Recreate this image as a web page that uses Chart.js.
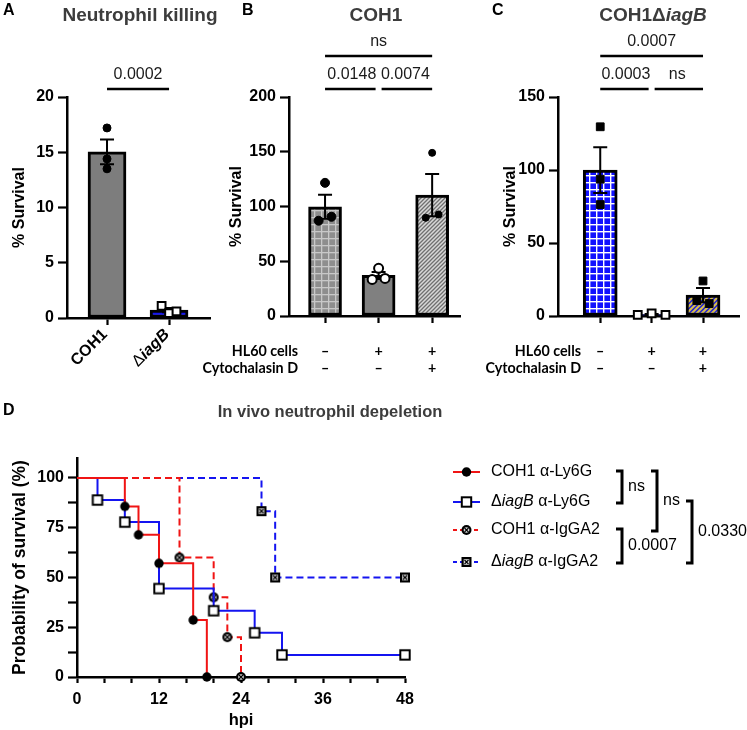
<!DOCTYPE html>
<html>
<head>
<meta charset="utf-8">
<script src="https://cdn.jsdelivr.net/npm/chart.js@4.4.1/dist/chart.umd.min.js"></script>
<style>
  html, body { margin: 0; padding: 0; background: #fff; }
  #wrap { position: relative; width: 747px; height: 730px; overflow: hidden; }
  canvas { position: absolute; }
</style>
</head>
<body>
<div id="wrap">
  <canvas id="pa" width="240" height="390" style="left:0;top:0"></canvas>
  <canvas id="pb" width="295" height="390" style="left:195px;top:0"></canvas>
  <canvas id="pc" width="277" height="390" style="left:470px;top:0"></canvas>
  <canvas id="pd" width="747" height="340" style="left:0;top:390px"></canvas>
</div>
<script>
// ---- values ----
// A: neutrophil killing, % survival per replicate
var killNames = ['COH1', 'ΔiagB'];
var killCOH1 = [17.2, 14.4, 13.5];
var killIagB = [1.1, 0.45, 0.6];
var killTicks = [0, 5, 10, 15, 20];
var sigA = [[0, 1, '0.0002']];

// B / C: HL60 cells +/- cytochalasin D
var hl60Row = ['–', '+', '+'];
var cytoRow = ['–', '–', '+'];
var cohNone = [121.6, 87.0, 90.6];
var cohHL60 = [43.5, 33.4, 34.3];
var cohHL60Cyto = [149.0, 89.7, 92.7];
var cohTicks = [0, 50, 100, 150, 200];
var sigB = [[0, 1, '0.0148'], [1, 2, '0.0074'], [0, 2, 'ns']];

var iagNone = [129.6, 93.7, 76.3];
var iagHL60 = [0.7, 1.8, 0.7];
var iagHL60Cyto = [24.0, 10.5, 8.5];
var iagTicks = [0, 50, 100, 150];
var sigC = [[0, 1, '0.0003'], [1, 2, 'ns'], [0, 2, '0.0007']];

// D: Kaplan-Meier, hpi and % surviving
var kmNames = ['COH1 α-Ly6G', 'ΔiagB α-Ly6G', 'COH1 α-IgGA2', 'ΔiagB α-IgGA2'];
var ly6gCohHpi = [0, 7, 9, 12, 17, 19];
var ly6gCohSurv = [100, 85.7, 71.4, 57.1, 28.6, 0];
var ly6gIagHpi = [0, 3, 7, 12, 20, 26, 30, 48];
var ly6gIagSurv = [100, 88.9, 77.8, 44.4, 33.3, 22.2, 11.1, 11.1];
var igaCohHpi = [0, 15, 20, 22, 24];
var igaCohSurv = [100, 60, 40, 20, 0];
var igaIagHpi = [0, 27, 29, 48];
var igaIagSurv = [100, 83.3, 50, 50];
var hpiTicks = [0, 12, 24, 36, 48];
var survTicks = [0, 25, 50, 75, 100];
var kmCompare = [[0, 1, 'ns'], [0, 2, 'ns'], [2, 3, '0.0007'], [1, 3, '0.0330']];

// ---- styling ----
var FONT = "'Liberation Sans', Arial, sans-serif";
var RED = '#f01414', BLUE = '#1414f0';
Chart.defaults.font.family = FONT;
Chart.defaults.color = '#000';

function mean(a) { return a.reduce(function (s, v) { return s + v; }, 0) / a.length; }
function sem(a) {
    var m = mean(a);
    var ss = a.reduce(function (s, v) { return s + (v - m) * (v - m); }, 0);
    return Math.sqrt(ss / (a.length - 1)) / Math.sqrt(a.length);
}

// prism style scatter: replicates that would overlap get pushed sideways
function spread(vals, tol, w2, w3) {
    var off = vals.map(function () { return 0; });
    var idx = vals.map(function (v, i) { return i; }).sort(function (a, b) { return vals[a] - vals[b]; });
    var clusters = [], cur = [idx[0]];
    for (var k = 1; k < idx.length; k++) {
        if (vals[idx[k]] - vals[idx[k - 1]] < tol) cur.push(idx[k]);
        else { clusters.push(cur); cur = [idx[k]]; }
    }
    clusters.push(cur);
    clusters.forEach(function (c) {
        if (c.length < 2) return;
        var w = c.length === 2 ? w2 : w3;
        c.slice().sort(function (a, b) { return a - b; }).forEach(function (i, k) {
            off[i] = -w + 2 * w * k / (c.length - 1);
        });
    });
    return off;
}

function gridFill(ctx, bg, fg, s, lw) {
    var c = document.createElement('canvas'); c.width = c.height = s;
    var g = c.getContext('2d');
    g.fillStyle = bg; g.fillRect(0, 0, s, s);
    g.fillStyle = fg; g.fillRect(0, 0, s, lw); g.fillRect(0, 0, lw, s);
    return ctx.createPattern(c, 'repeat');
}
function hatchFill(ctx, bg, fg, s, lw) {
    var c = document.createElement('canvas'); c.width = c.height = s;
    var g = c.getContext('2d');
    g.fillStyle = bg; g.fillRect(0, 0, s, s);
    g.strokeStyle = fg; g.lineWidth = lw; g.beginPath();
    g.moveTo(-1, s + 1); g.lineTo(s + 1, -1);
    g.moveTo(-1, 1); g.lineTo(1, -1);
    g.moveTo(s - 1, s + 1); g.lineTo(s + 1, s - 1);
    g.stroke();
    return ctx.createPattern(c, 'repeat');
}

// mixed text: Δ plain, iagB italic
function segs(text, font, italicFont, deltaFont) {
    var out = [];
    text.split(/(Δ|iagB)/).forEach(function (p) {
        if (!p) return;
        out.push({ t: p, f: p === 'iagB' ? italicFont : (p === 'Δ' ? deltaFont : font) });
    });
    return out;
}
function drawSegs(ctx, parts, x, y, align) {
    var w = 0;
    parts.forEach(function (p) { ctx.font = p.f; w += ctx.measureText(p.t).width; });
    var cx = align === 'center' ? x - w / 2 : (align === 'right' ? x - w : x);
    ctx.textAlign = 'left';
    parts.forEach(function (p) { ctx.font = p.f; ctx.fillText(p.t, cx, y); cx += ctx.measureText(p.t).width; });
}

function drawMarker(g, kind, x, y) {
    g.save();
    g.lineWidth = 2; g.strokeStyle = '#000';
    if (kind === 'dot') {
        g.fillStyle = '#000'; g.beginPath(); g.arc(x, y, 4.7, 0, Math.PI * 2); g.fill();
    } else if (kind === 'box') {
        g.fillStyle = '#fff'; g.fillRect(x - 4.7, y - 4.7, 9.4, 9.4); g.strokeRect(x - 4.7, y - 4.7, 9.4, 9.4);
    } else if (kind === 'odot') {
        g.fillStyle = '#000'; g.beginPath(); g.arc(x, y, 5, 0, Math.PI * 2); g.fill();
        g.fillStyle = '#ddd'; g.beginPath(); g.arc(x, y, 2.8, 0, Math.PI * 2); g.fill();
        g.lineWidth = 1.1; g.beginPath();
        g.moveTo(x - 2, y - 2); g.lineTo(x + 2, y + 2); g.moveTo(x + 2, y - 2); g.lineTo(x - 2, y + 2); g.stroke();
    } else {
        g.fillStyle = '#000'; g.fillRect(x - 5, y - 5, 10, 10);
        g.fillStyle = '#ddd'; g.fillRect(x - 2.8, y - 2.8, 5.6, 5.6);
        g.lineWidth = 1.1; g.beginPath();
        g.moveTo(x - 2, y - 2); g.lineTo(x + 2, y + 2); g.moveTo(x + 2, y - 2); g.lineTo(x - 2, y + 2); g.stroke();
    }
    g.restore();
}
function markerImg(kind) {
    var c = document.createElement('canvas'); c.width = c.height = 14;
    drawMarker(c.getContext('2d'), kind, 7, 7);
    return c;
}

function bracketsFor(list) {
    return list.map(function (b) {
        var lvl = b[1] - b[0] === 1 ? 0 : 1;
        var shared = function (v) {
            return list.some(function (o) { return o !== b && o[1] - o[0] === 1 && (o[0] === v || o[1] === v); });
        };
        return { i: b[0], j: b[1], text: b[2], level: lvl,
                 gi: lvl === 0 && shared(b[0]) ? 3 : 0, gj: lvl === 0 && shared(b[1]) ? 3 : 0 };
    });
}

var panelDecor = {
    id: 'panelDecor',
    afterDatasetDraw: function (chart, args, o) {
        if (args.index !== 0 || !o.groups) return;
        var ctx = chart.ctx, x = chart.scales.x, y = chart.scales.y;
        ctx.save();
        ctx.strokeStyle = '#000'; ctx.lineWidth = 2;
        o.groups.forEach(function (g, i) {
            var m = mean(g), e = sem(g), px = x.getPixelForValue(i);
            var top = y.getPixelForValue(m + e), bot = y.getPixelForValue(Math.max(0, m - e));
            ctx.beginPath();
            ctx.moveTo(px, top); ctx.lineTo(px, bot);
            ctx.moveTo(px - 7, top); ctx.lineTo(px + 7, top);
            ctx.moveTo(px - 7, bot); ctx.lineTo(px + 7, bot);
            ctx.stroke();
        });
        ctx.restore();
    },
    afterDraw: function (chart, args, o) {
        var ctx = chart.ctx, area = chart.chartArea, x = chart.scales.x;
        ctx.save();
        ctx.fillStyle = '#000'; ctx.textBaseline = 'middle';
        // panel letter + title
        ctx.font = 'bold 16px ' + FONT; ctx.textAlign = 'left';
        ctx.fillText(o.letter[0], o.letter[1], 11);
        ctx.fillStyle = '#3c3c3c';
        drawSegs(ctx, segs(o.title[0], 'bold 19px ' + FONT, 'italic bold 19px ' + FONT, 'bold 19px ' + FONT),
            o.title[1], 16, 'center');
        // significance brackets
        ctx.fillStyle = '#1a1a1a'; ctx.strokeStyle = '#000'; ctx.lineWidth = 2.5;
        bracketsFor(o.sig).forEach(function (b) {
            var ly = area.top - 8 - b.level * 33;
            var x1 = x.getPixelForValue(b.i) + b.gi, x2 = x.getPixelForValue(b.j) - b.gj;
            ctx.beginPath(); ctx.moveTo(x1, ly); ctx.lineTo(x2, ly); ctx.stroke();
            ctx.font = '16px ' + FONT; ctx.textAlign = 'center';
            ctx.fillText(b.text, (x.getPixelForValue(b.i) + x.getPixelForValue(b.j)) / 2, ly - 14);
        });
        ctx.fillStyle = '#000';
        // category labels
        if (o.rotLabels) {
            o.rotLabels.forEach(function (lab, i) {
                ctx.save();
                ctx.translate(x.getPixelForValue(i) - 2, area.bottom + 14);
                ctx.rotate(-Math.PI / 4);
                drawSegs(ctx, segs(lab, 'bold 16px ' + FONT, 'italic bold 16px ' + FONT, '16px ' + FONT), 0, 0, 'right');
                ctx.restore();
            });
        }
        if (o.table) {
            o.table.rows.forEach(function (r, k) {
                var yy = area.bottom + o.table.dy[k];
                ctx.font = 'bold 14.3px Lato, ' + FONT;
                ctx.textAlign = 'right';
                ctx.fillText(r[0], area.left + o.table.labelX, yy);
                ctx.textAlign = 'center';
                r[1].forEach(function (s, i) { ctx.fillText(s, x.getPixelForValue(i), yy); });
            });
        }
        ctx.restore();
    }
};

function axisLine() { return { color: '#000', width: 2.5 }; }
function tickMarks(len) {
    return { display: true, drawOnChartArea: false, drawTicks: true, tickLength: len,
             tickColor: '#000', tickWidth: 2.2, offset: false };
}

function barPanel(id, cfg) {
    var ctx = document.getElementById(id).getContext('2d');
    var fills = cfg.fills(ctx);
    var datasets = [{
        type: 'bar', order: 2,
        data: cfg.groups.map(function (g, i) { return { x: i, y: mean(g) }; }),
        backgroundColor: fills, borderColor: '#000', borderWidth: 3,
        borderSkipped: false, barThickness: cfg.barW
    }];
    cfg.groups.forEach(function (g, i) {
        var off = spread(g, cfg.tol, cfg.w2, cfg.w3);
        var mk = cfg.markers[i];
        datasets.push({
            type: 'scatter', order: 1, clip: false,
            data: g.map(function (v, k) { return { x: i + off[k], y: v }; }),
            pointStyle: mk[0], pointRadius: mk[1], pointHoverRadius: mk[1],
            pointBackgroundColor: mk[2], pointBorderColor: '#000', pointBorderWidth: mk[3]
        });
    });
    var yt = cfg.yTicks;
    return new Chart(ctx, {
        type: 'bar',
        data: { datasets: datasets },
        options: {
            responsive: false, animation: false, events: [],
            layout: { padding: { top: 97, right: cfg.padRight, left: 0, bottom: 0 } },
            plugins: { legend: { display: false }, tooltip: { enabled: false }, panelDecor: cfg.decor },
            scales: {
                x: {
                    type: 'linear', min: cfg.xMin, max: cfg.xMax, offset: false,
                    afterBuildTicks: function (s) { s.ticks = cfg.groups.map(function (g, i) { return { value: i }; }); },
                    afterFit: function (s) { s.height = cfg.xH; },
                    ticks: { autoSkip: false, callback: function () { return ''; } },
                    grid: tickMarks(7), border: axisLine()
                },
                y: {
                    type: 'linear', min: 0, max: yt[yt.length - 1],
                    afterBuildTicks: function (s) { s.ticks = yt.map(function (v) { return { value: v }; }); },
                    afterFit: function (s) { s.width = cfg.yW; },
                    ticks: { font: { size: 16, weight: 'bold' }, padding: 4, color: '#000' },
                    grid: tickMarks(9), border: axisLine(),
                    title: { display: true, text: '% Survival', color: '#000',
                             font: { size: 16, weight: 'bold' }, padding: { top: cfg.titlePad, bottom: 0 } }
                }
            }
        },
        plugins: [panelDecor]
    });
}

barPanel('pa', {
    groups: [killCOH1, killIagB], yTicks: killTicks,
    xMin: -0.645, xMax: 1.66, barW: 38, padRight: 30, yW: 67, xH: 72, titlePad: 10,
    tol: 0.7, w2: 0.1, w3: 0.12,
    fills: function () { return ['#7d7d7d', '#1414f0']; },
    markers: [['circle', 4, '#000', 1], ['rect', 5.5, '#fff', 2]],
    decor: { groups: [killCOH1, killIagB], letter: ['A', 3], title: ['Neutrophil killing', 140],
             sig: sigA, rotLabels: killNames }
});

barPanel('pb', {
    groups: [cohNone, cohHL60, cohHL60Cyto], yTicks: cohTicks,
    xMin: -0.673, xMax: 2.52, barW: 33, padRight: 30, yW: 94, xH: 74, titlePad: 32,
    tol: 7, w2: 0.12, w3: 0.26,
    fills: function (ctx) {
        return [gridFill(ctx, '#8e8e8e', '#c8c8c8', 7, 1.3), '#808080', hatchFill(ctx, '#d8d8d8', '#707070', 4, 1.3)];
    },
    markers: [['circle', 4.5, '#000', 1], ['circle', 4.5, '#fff', 2], ['circle', 3.5, '#000', 1]],
    decor: { groups: [cohNone, cohHL60, cohHL60Cyto], letter: ['B', 47], title: ['COH1', 181], sig: sigB,
             table: { rows: [['HL60 cells', hl60Row], ['Cytochalasin D', cytoRow]], dy: [35, 52], labelX: 9 } }
});

barPanel('pc', {
    groups: [iagNone, iagHL60, iagHL60Cyto], yTicks: iagTicks,
    xMin: -0.822, xMax: 2.71, barW: 34, padRight: 0, yW: 88, xH: 74, titlePad: 31,
    tol: 5.25, w2: 0.12, w3: 0.27,
    fills: function (ctx) {
        return [gridFill(ctx, '#1212ff', '#ffffff', 7, 1.4), '#1212ff', hatchFill(ctx, '#2020d8', '#d8c04a', 5, 2)];
    },
    markers: [['rect', 5.5, '#000', 1], ['rect', 5.5, '#fff', 2], ['rect', 5.5, '#000', 1]],
    decor: { groups: [iagNone, iagHL60, iagHL60Cyto], letter: ['C', 22], title: ['COH1ΔiagB', 183], sig: sigC,
             table: { rows: [['HL60 cells', hl60Row], ['Cytochalasin D', cytoRow]], dy: [35, 52], labelX: 23 } }
});

// ---- panel D: survival curves ----
var kmStyle = [
    { color: RED, dash: [], marker: 'dot' },
    { color: BLUE, dash: [], marker: 'box' },
    { color: RED, dash: [7, 4], marker: 'odot' },
    { color: BLUE, dash: [7, 4], marker: 'xbox' }
];
var kmSeries = [[ly6gCohHpi, ly6gCohSurv], [ly6gIagHpi, ly6gIagSurv], [igaCohHpi, igaCohSurv], [igaIagHpi, igaIagSurv]];
var legendRows = [82, 112, 140, 172];
var bracketCols = [622, 657, 622, 692];

function withMinor(major, n) {
    var out = [];
    major.forEach(function (v, i) {
        out.push(v);
        if (i < major.length - 1) {
            for (var k = 1; k <= n; k++) out.push(v + (major[i + 1] - v) * k / (n + 1));
        }
    });
    return out;
}

var kmDecor = {
    id: 'kmDecor',
    afterDraw: function (chart) {
        var ctx = chart.ctx;
        ctx.save();
        ctx.textBaseline = 'middle';
        ctx.fillStyle = '#000'; ctx.font = 'bold 16px ' + FONT; ctx.textAlign = 'left';
        ctx.fillText('D', 3, 21);
        ctx.fillStyle = '#3c3c3c'; ctx.font = 'bold 16.5px ' + FONT; ctx.textAlign = 'center';
        ctx.fillText('In vivo neutrophil depeletion', 330, 22);
        // legend
        kmNames.forEach(function (name, i) {
            var ly = legendRows[i], st = kmStyle[i];
            ctx.strokeStyle = st.color; ctx.lineWidth = 2; ctx.setLineDash(st.dash.length ? [4, 3] : []);
            ctx.beginPath(); ctx.moveTo(453, ly); ctx.lineTo(480, ly); ctx.stroke();
            ctx.setLineDash([]);
            drawMarker(ctx, st.marker, 466.5, ly);
            ctx.fillStyle = '#000';
            drawSegs(ctx, segs(name, '16px ' + FONT, 'italic 16px ' + FONT, '16px ' + FONT), 491, ly, 'left');
        });
        // log-rank comparisons
        ctx.strokeStyle = '#000'; ctx.lineWidth = 3;
        kmCompare.forEach(function (c, k) {
            var bx = bracketCols[k];
            var y1 = legendRows[c[0]] - 1, y2 = legendRows[c[1]] + 1;
            ctx.beginPath();
            ctx.moveTo(bx - 6, y1); ctx.lineTo(bx, y1); ctx.lineTo(bx, y2); ctx.lineTo(bx - 6, y2);
            ctx.stroke();
            ctx.font = '16px ' + FONT; ctx.textAlign = 'left'; ctx.fillStyle = '#000';
            ctx.fillText(c[2], bx + 6, (y1 + y2) / 2);
        });
        ctx.restore();
    }
};

new Chart(document.getElementById('pd').getContext('2d'), {
    type: 'line',
    data: {
        datasets: kmSeries.map(function (s, i) {
            var st = kmStyle[i];
            return {
                data: s[0].map(function (t, k) { return { x: t, y: s[1][k] }; }),
                borderColor: st.color, borderWidth: 2, borderDash: st.dash, stepped: true,
                fill: false, clip: false,
                pointStyle: markerImg(st.marker),
                pointRadius: function (c) { return c.dataIndex === 0 ? 0 : 5; },
                pointHoverRadius: 5
            };
        })
    },
    options: {
        responsive: false, animation: false, events: [],
        layout: { padding: { top: 68, right: 342, left: 0, bottom: 0 } },
        plugins: { legend: { display: false }, tooltip: { enabled: false } },
        scales: {
            x: {
                type: 'linear', min: 0, max: 48,
                afterBuildTicks: function (s) { s.ticks = withMinor(hpiTicks, 2).map(function (v) { return { value: v }; }); },
                afterFit: function (s) { s.height = 53; },
                ticks: { autoSkip: false, maxRotation: 0, padding: 7, font: { size: 16, weight: 'bold' },
                         callback: function (v) { return hpiTicks.indexOf(v) >= 0 ? String(v) : ''; } },
                grid: tickMarks(6), border: axisLine(),
                title: { display: true, text: 'hpi', font: { size: 16.5, weight: 'bold' }, padding: { top: 0, bottom: 0 } }
            },
            y: {
                type: 'linear', min: 0, max: 110,
                afterBuildTicks: function (s) { s.ticks = withMinor(survTicks, 1).map(function (v) { return { value: v }; }); },
                afterFit: function (s) { s.width = 77; },
                ticks: { autoSkip: false, padding: 4, font: { size: 16, weight: 'bold' },
                         callback: function (v) { return survTicks.indexOf(v) >= 0 ? String(v) : ''; } },
                grid: tickMarks(9), border: axisLine(),
                title: { display: true, text: 'Probability of survival (%)', font: { size: 17.5, weight: 'bold' },
                         padding: { top: 10, bottom: 0 } }
            }
        }
    },
    plugins: [kmDecor]
});
</script>
</body>
</html>
